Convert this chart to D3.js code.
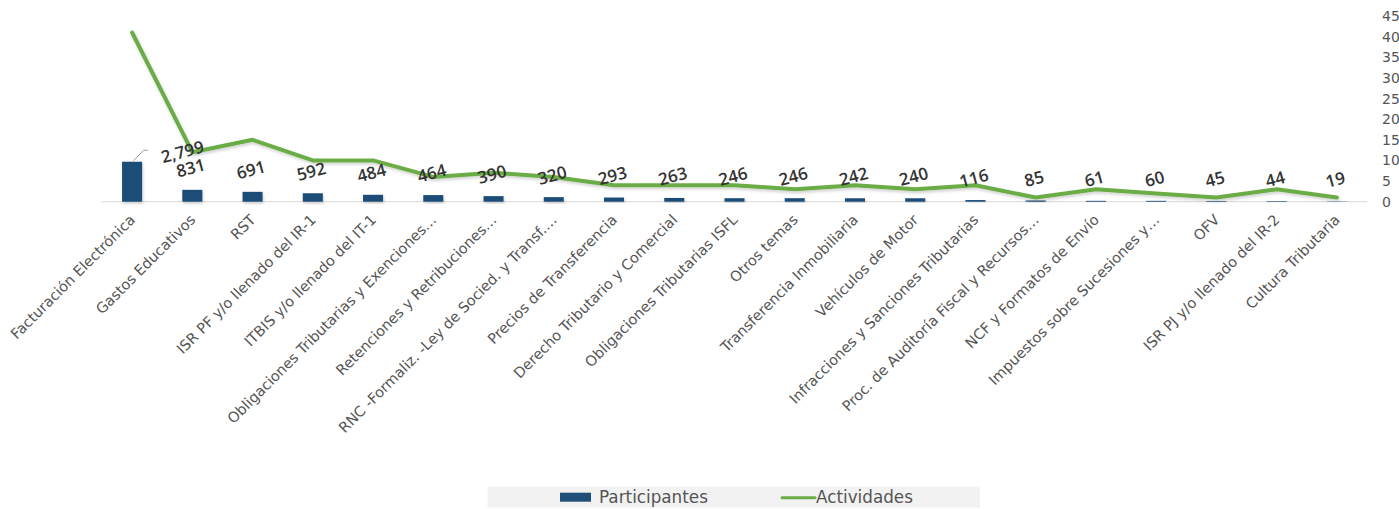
<!DOCTYPE html>
<html lang="es">
  <head>
    <meta charset="UTF-8" />
    <title>Participantes y Actividades</title>
    <style>
      body { margin: 0; background: #fff; }
      text { font-family: "DejaVu Sans", sans-serif; }
    </style>
  </head>
  <body>
    <script src="https://d3js.org/d3.v7.min.js"></script>
    <script>
      const width = 1399;
      const height = 509;

      const categories = [
        "Facturación Electrónica",
        "Gastos Educativos",
        "RST",
        "ISR PF y/o llenado del IR-1",
        "ITBIS y/o llenado del IT-1",
        "Obligaciones Tributarias y Exenciones…",
        "Retenciones y Retribuciones…",
        "RNC -Formaliz. -Ley de Socied. y Transf.…",
        "Precios de Transferencia",
        "Derecho Tributario y Comercial",
        "Obligaciones Tributarias ISFL",
        "Otros temas",
        "Transferencia Inmobiliaria",
        "Vehículos de Motor",
        "Infracciones y Sanciones Tributarias",
        "Proc. de Auditoría Fiscal y Recursos…",
        "NCF y Formatos de Envío",
        "Impuestos sobre Sucesiones y…",
        "OFV",
        "ISR PJ y/o llenado del IR-2",
        "Cultura Tributaria",
      ];
      const participantes = [2799, 831, 691, 592, 484, 464, 390, 320, 293, 263, 246, 246, 242, 240, 116, 85, 61, 60, 45, 44, 19];
      const actividades = [41, 12, 15, 10, 10, 6, 7, 6, 4, 4, 4, 3, 4, 3, 4, 1, 3, 2, 1, 3, 1];
      const rightTicks = [0, 5, 10, 15, 20, 25, 30, 35, 40, 45];

      const plot = { left: 102, right: 1367, top: 16, bottom: 201.7 };

      const svg = d3
        .select("body")
        .append("svg")
        .attr("width", width)
        .attr("height", height);

      const defs = svg.append("defs");
      const shadow = defs.append("filter").attr("id", "shadow")
        .attr("x", "-10%").attr("y", "-10%").attr("width", "120%").attr("height", "140%");
      shadow.append("feDropShadow")
        .attr("dx", 1).attr("dy", 2).attr("stdDeviation", 1.5)
        .attr("flood-color", "#000").attr("flood-opacity", 0.18);

      const x = d3.scaleBand()
        .domain(categories)
        .range([plot.left, plot.right])
        .paddingInner(0.667)
        .paddingOuter(0.333);
      const cx = (d) => x(d) + x.bandwidth() / 2;

      const yLeft = d3.scaleLinear().domain([0, 13000]).range([plot.bottom, plot.top]);
      const yRight = d3.scaleLinear().domain([0, 45]).range([plot.bottom, plot.top]);

      // baseline
      svg.append("line")
        .attr("x1", plot.left).attr("x2", plot.right)
        .attr("y1", plot.bottom).attr("y2", plot.bottom)
        .attr("stroke", "#d8d8d8").attr("stroke-width", 1);

      // right axis
      const axisR = svg.append("g")
        .attr("transform", `translate(${plot.right + 13},0)`)
        .call(d3.axisRight(yRight).tickValues(rightTicks).tickSize(0).tickPadding(2));
      axisR.select(".domain").remove();
      axisR.selectAll("text")
        .attr("font-size", 14)
        .attr("fill", "#555")
        .style("font-family", "DejaVu Sans, sans-serif");

      // bars
      svg.append("g")
        .selectAll("rect")
        .data(participantes)
        .join("rect")
        .attr("x", (d, i) => x(categories[i]))
        .attr("y", (d) => yLeft(d))
        .attr("width", x.bandwidth())
        .attr("height", (d) => plot.bottom - yLeft(d))
        .attr("fill", "#1f4e79")
        .attr("filter", "url(#shadow)");

      // line
      const line = d3.line()
        .x((d, i) => cx(categories[i]))
        .y((d) => yRight(d));
      svg.append("path")
        .datum(actividades)
        .attr("d", line)
        .attr("fill", "none")
        .attr("stroke", "#6aad46")
        .attr("stroke-width", 4)
        .attr("stroke-linejoin", "round")
        .attr("stroke-linecap", "round")
        .attr("filter", "url(#shadow)");

      // data labels
      const fmt = d3.format(",");
      const labels = svg.append("g");
      participantes.forEach((d, i) => {
        const bx = cx(categories[i]);
        const top = yLeft(d);
        let lx = bx, ly = top - 16;
        if (i === 0) {
          // moved label with connector
          lx = bx + 52; ly = top - 4;
          labels.append("polyline")
            .attr("points", [[bx + 1.5, top - 1], [bx + 11.5, top - 11.5], [bx + 16, top - 11.5]].join(" "))
            .attr("fill", "none").attr("stroke", "#999").attr("stroke-width", 1);
        }
        labels.append("text")
          .attr("x", lx).attr("y", ly)
          .attr("text-anchor", "middle")
          .attr("transform", `rotate(-15,${lx},${ly})`)
          .attr("font-size", 17)
          .attr("font-weight", "600")
          .attr("fill", "#333")
          .style("font-family", "Open Sans, DejaVu Sans, sans-serif")
          .text(fmt(d));
      });

      // x labels
      svg.append("g")
        .selectAll("text")
        .data(categories)
        .join("text")
        .attr("x", (d) => cx(d) + 4)
        .attr("y", plot.bottom + 19)
        .attr("text-anchor", "end")
        .attr("transform", (d) => `rotate(-45,${cx(d) + 4},${plot.bottom + 19})`)
        .attr("font-size", 14.5)
        .attr("fill", "#555")
        .text((d) => d);

      // legend
      const legend = svg.append("g");
      legend.append("rect")
        .attr("x", 487.5).attr("y", 486.7)
        .attr("width", 492.5).attr("height", 21)
        .attr("fill", "#f2f2f2");
      legend.append("rect")
        .attr("x", 560).attr("y", 492.7)
        .attr("width", 31).attr("height", 9)
        .attr("fill", "#1f4e79");
      legend.append("text")
        .attr("x", 599).attr("y", 503)
        .attr("font-size", 16.8).attr("fill", "#555")
        .text("Participantes");
      legend.append("line")
        .attr("x1", 782).attr("x2", 815)
        .attr("y1", 497.7).attr("y2", 497.7)
        .attr("stroke", "#6aad46").attr("stroke-width", 3)
        .attr("stroke-linecap", "round");
      legend.append("text")
        .attr("x", 816).attr("y", 503)
        .attr("font-size", 16.8).attr("fill", "#555")
        .text("Actividades");
    </script>
  </body>
</html>
